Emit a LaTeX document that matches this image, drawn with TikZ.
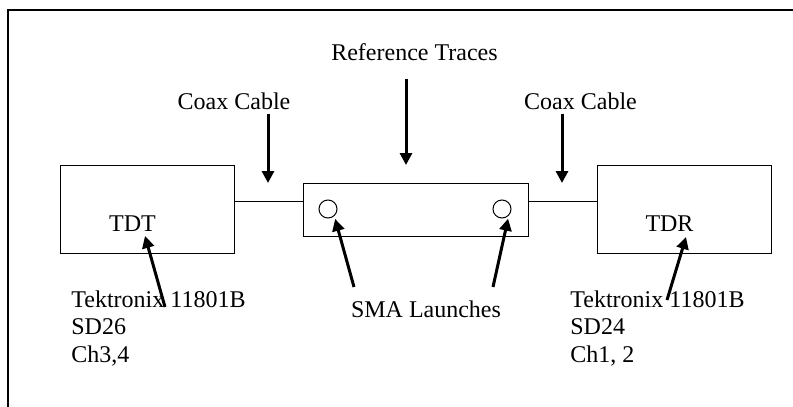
\documentclass[tikz,border=0pt]{standalone}
\usepackage{fontspec}
\setmainfont{Liberation Serif}
\usetikzlibrary{arrows.meta}

\tikzset{
    unit/.style={draw, line width=0.5pt, minimum width=87pt, minimum height=44pt, inner sep=0pt},
    launch/.style={draw, circle, line width=0.5pt, minimum size=9pt, inner sep=0pt},
    txt/.style={inner sep=2pt, anchor=base, font=\fontsize{12}{13.6}\selectfont},
    ptr/.style={-{Triangle[length=6pt,width=6pt]}, line width=1.5pt},
}

\begin{document}
\begin{tikzpicture}[x=0.5pt, y=-0.5pt]
    \useasboundingbox (0,0) rectangle (793,407);
    % frame
    \draw[line width=0.8pt] (793,10) -- (8,10) -- (8,407);

    % instruments and test board
    \node[unit] (tdt) at (147,209) {};
    \node[unit] (tdr) at (684,209) {};
    \node[unit, minimum width=112.5pt, minimum height=26.5pt] (board) at (415.5,209.5) {};
    \node[launch] (sma1) at (328,209) {};
    \node[launch] (sma2) at (502,209) {};

    % coax cables
    \coordinate (cbl) at (0,201);
    \draw[line width=0.5pt] (tdt.east |- cbl) -- (board.west |- cbl);
    \draw[line width=0.5pt] (board.east |- cbl) -- (tdr.west |- cbl);

    % labels
    \node[txt] (tdtname) at (132.5,231) {TDT};
    \node[txt] (tdrname) at (669.5,231) {TDR};
    \node[txt] (coaxl) at (234,109) {Coax Cable};
    \node[txt] (coaxr) at (580.5,109) {Coax Cable};
    \node[txt] (reftr) at (414.5,61) {Reference Traces};
    \node[txt] (smalbl) at (426,317) {SMA Launches};
    % base of a multi-line node sits on its last line
    \node[txt, anchor=base west, align=left] (tdtinfo) at (67,362) {Tektronix 11801B\\SD26\\Ch3,4};
    \node[txt, anchor=base west, align=left] (tdrinfo) at (566,362) {Tektronix 11801B\\SD24\\Ch1, 2};

    % pointers
    \coordinate (cblL) at (268,183);
    \coordinate (cblR) at (562,183);
    \coordinate (refpt) at (406,165);
    \coordinate (tdtfoot) at (165,307);
    \coordinate (tdttip) at (145,236);
    \coordinate (tdrfoot) at (667,300);
    \coordinate (tdrtip) at (686,237);
    \coordinate (smafoot1) at (354,287);
    \coordinate (smafoot2) at (493,287);

    \draw[ptr] (coaxl.south -| cblL) -- (cblL);
    \draw[ptr] (coaxr.south -| cblR) -- (cblR);
    \draw[ptr, shorten <=6.5pt] (reftr.south -| refpt) -- (refpt);
    \draw[ptr] (tdtfoot) -- (tdttip);
    \draw[ptr] (tdrfoot) -- (tdrtip);
    \draw[ptr, shorten >=1.5pt] (smafoot1) -- (sma1.-48);
    \draw[ptr, shorten >=1.5pt] (smafoot2) -- (sma2.-45);
\end{tikzpicture}
\end{document}
